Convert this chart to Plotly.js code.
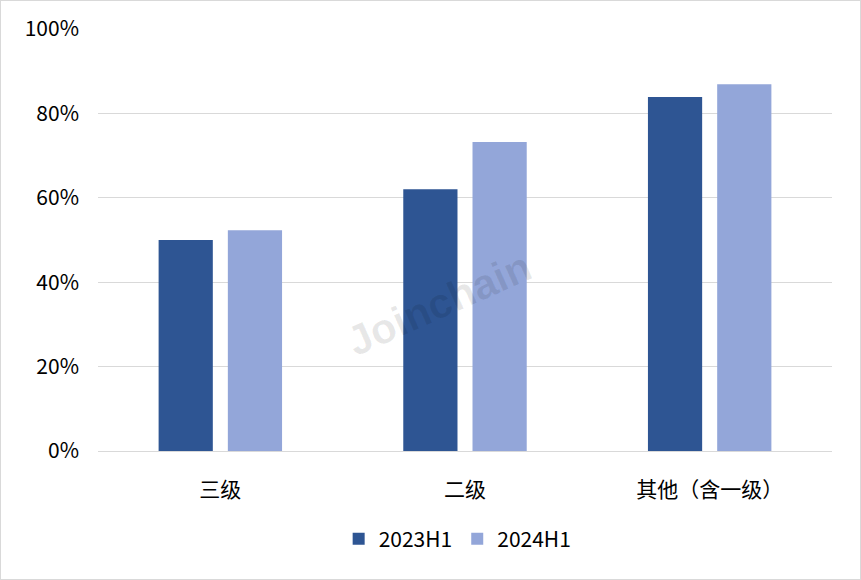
<!DOCTYPE html>
<html>
<head>
<meta charset="utf-8">
<script src="https://cdn.plot.ly/plotly-3.0.1.min.js"></script>
<style>
  html, body { margin: 0; padding: 0; background: #fff; }
  #chart { width: 859px; height: 578px; border: 1px solid #d9d9d9; }
</style>
</head>
<body>
<div id="chart"></div>
<script>
const categories = ['三级', '二级', '其他（含一级）'];
const values2023 = [0.50, 0.62, 0.839];
const values2024 = [0.523, 0.732, 0.869];
const seriesNames = ['2023H1', '2024H1'];
const yTicks = [0, 0.2, 0.4, 0.6, 0.8, 1.0];
const yTickLabels = ['0%', '20%', '40%', '60%', '80%', '100%'];

const font = '"Noto Sans CJK SC", "Noto Sans", sans-serif';

const traces = [
	{
		x: categories,
		y: values2023,
		type: 'bar',
		name: seriesNames[0],
		marker: { color: '#2e5593' },
		hoverinfo: 'skip'
	},
	{
		x: categories,
		y: values2024,
		type: 'bar',
		name: seriesNames[1],
		marker: { color: '#93a6d9' },
		hoverinfo: 'skip'
	}
];

const layout = {
	width: 859,
	height: 578,
	margin: { l: 97, r: 28, t: 28, b: 128 },
	paper_bgcolor: '#fff',
	plot_bgcolor: '#fff',
	font: { family: font, size: 20, color: '#000' },
	barmode: 'group',
	bargap: 0.434,
	bargroupgap: 0.217,
	showlegend: true,
	legend: {
		orientation: 'h',
		x: 0.49,
		xanchor: 'center',
		y: -0.16,
		yanchor: 'top',
		font: { family: font, size: 21, color: '#000' },
		itemwidth: 30
	},
	xaxis: {
		type: 'category',
		showgrid: false,
		showline: true,
		linecolor: '#d9d9d9',
		linewidth: 1,
		ticks: '',
		ticklabelstandoff: 20,
		tickfont: { family: font, size: 21, color: '#000' }
	},
	yaxis: {
		range: [0, 1.0],
		tickvals: yTicks,
		ticktext: yTickLabels,
		showgrid: true,
		gridcolor: '#d9d9d9',
		zeroline: false,
		showline: false,
		ticks: '',
		ticklabelstandoff: 18,
		tickfont: { family: font, size: 21, color: '#000' }
	},
	annotations: [
		{
			text: '<b>Joinchain</b>',
			xref: 'paper',
			yref: 'paper',
			x: 0.465,
			y: 0.35,
			showarrow: false,
			textangle: -24,
			font: { family: '"Liberation Sans", Arial, sans-serif', size: 42, color: 'rgba(0,0,0,0.09)' }
		}
	]
};

Plotly.newPlot('chart', traces, layout, { displayModeBar: false, staticPlot: true });
</script>
</body>
</html>
